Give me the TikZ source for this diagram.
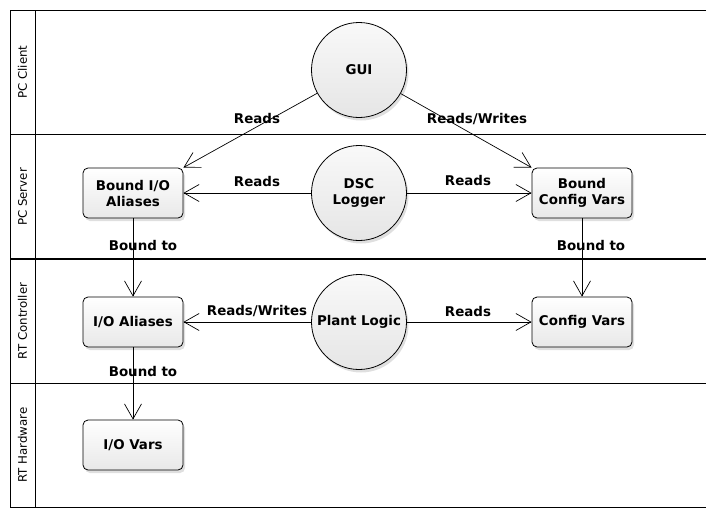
\documentclass[tikz,border=0pt]{standalone}
\usepackage{fontspec}
\setmainfont{DejaVu Sans}
\usetikzlibrary{arrows.meta,shadows}
\tikzset{
  lbl/.style={font=\fontsize{13.4}{16}\selectfont\bfseries},
  lanelbl/.style={font=\fontsize{11.8}{13}\selectfont, rotate=90},
  procnode/.style={circle, draw, line width=0.8pt, minimum size=95pt, inner sep=0pt,
    top color=gray!5, bottom color=gray!20,
    drop shadow={opacity=0.25, shadow xshift=2pt, shadow yshift=-3pt},
    align=center, lbl},
  boxnode/.style={rectangle, rounded corners=5pt, draw, line width=0.8pt,
    minimum width=100pt, minimum height=50pt, inner sep=0pt,
    top color=white, bottom color=gray!18,
    drop shadow={opacity=0.25, shadow xshift=2pt, shadow yshift=-3pt},
    align=center, lbl},
  conn/.style={draw, line width=0.7pt, -{Straight Barb[length=15pt,width=17pt]}},
  frameline/.style={line width=1pt},
}
\begin{document}
\begin{tikzpicture}[x=1pt,y=-1pt]
\useasboundingbox (0,0) rectangle (715,517);
% frame and lanes
\draw[frameline] (706,10) -- (10,10) -- (10,507) -- (706,507);
\draw[frameline] (35,10) -- (35,507);
\draw[frameline] (10,134) -- (706,134);
\draw[line width=1.6pt] (10,259) -- (706,259);
\draw[frameline] (10,383) -- (706,383);
\node[lanelbl] (l1) at (22.5,72) {PC Client};
\node[lanelbl] (l2) at (22.5,197) {PC Server};
\node[lanelbl] (l3) at (22.5,321) {RT Controller};
\node[lanelbl] (l4) at (22.5,445) {RT Hardware};
% processes
\node[procnode] (gui) at (359,70) {GUI};
\node[procnode] (dsc) at (359,193) {DSC\\Logger};
\node[procnode] (plant) at (359,322) {Plant Logic};
% data boxes
\node[boxnode] (bia) at (133,193) {Bound I/O\\Aliases};
\node[boxnode] (bcv) at (582,193) {Bound\\Config Vars};
\node[boxnode] (ioa) at (133,322) {I/O Aliases};
\node[boxnode] (cv) at (582,322) {Config Vars};
\node[boxnode] (iov) at (133,445) {I/O Vars};
% connectors
\draw[conn] (gui) -- (bia.north east);
\draw[conn] (gui) -- (bcv.north west);
\draw[conn] (dsc) -- (bia);
\draw[conn] (dsc) -- (bcv);
\draw[conn] (bia) -- (ioa);
\draw[conn] (bcv) -- (cv);
\draw[conn] (plant) -- (ioa);
\draw[conn] (plant) -- (cv);
\draw[conn] (ioa) -- (iov);
% labels
\node[lbl] (t1) at (257,119) {Reads};
\node[lbl] (t2) at (477,119) {Reads/Writes};
\node[lbl] (t3) at (257,182) {Reads};
\node[lbl] (t4) at (468,181) {Reads};
\node[lbl] (t5) at (143,245) {Bound to};
\node[lbl] (t6) at (591,245) {Bound to};
\node[lbl] (t7) at (257,311) {Reads/Writes};
\node[lbl] (t8) at (468,311) {Reads};
\node[lbl] (t9) at (143,371) {Bound to};
\end{tikzpicture}
\end{document}
